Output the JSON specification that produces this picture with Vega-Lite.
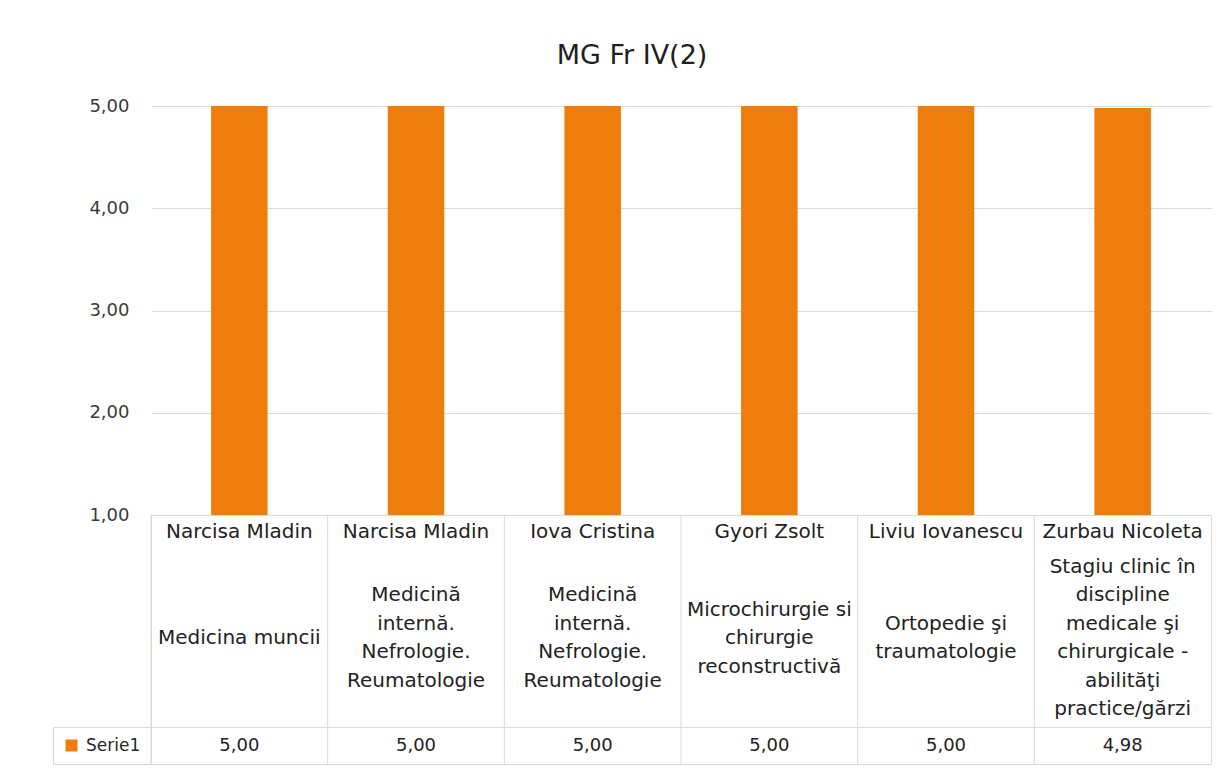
{
  "$schema": "https://vega.github.io/schema/vega-lite/v6.json",
  "background": "white",
  "padding": {"left": 52, "top": 42, "right": 15, "bottom": 6},
  "title": {"text": "MG Fr IV(2)", "fontSize": 27, "font": "DejaVu Sans", "fontWeight": "normal", "color": "#1f1f1f", "anchor": "middle", "offset": 27},
  "config": {
    "locale": {"number": {"decimal": ",", "thousands": ".", "grouping": [3], "currency": ["", " lei"]}},
    "font": "DejaVu Sans",
    "view": {"stroke": "#d9d9d9"}
  },
  "spacing": 0,
  "bounds": "flush",
  "datasets": {
    "d": [
      {"label": "Narcisa Mladin | Medicina muncii", "cadru": "Narcisa Mladin", "disciplina": "Medicina muncii", "valoare": 5.00, "serie": "Serie1"},
      {"label": "Narcisa Mladin | Medicină internă", "cadru": "Narcisa Mladin", "disciplina": "Medicină\ninternă.\nNefrologie.\nReumatologie", "valoare": 5.00, "serie": "Serie1"},
      {"label": "Iova Cristina | Medicină internă", "cadru": "Iova Cristina", "disciplina": "Medicină\ninternă.\nNefrologie.\nReumatologie", "valoare": 5.00, "serie": "Serie1"},
      {"label": "Gyori Zsolt | Microchirurgie", "cadru": "Gyori Zsolt", "disciplina": "Microchirurgie si\nchirurgie\nreconstructivă", "valoare": 5.00, "serie": "Serie1"},
      {"label": "Liviu Iovanescu | Ortopedie", "cadru": "Liviu Iovanescu", "disciplina": "Ortopedie şi\ntraumatologie", "valoare": 5.00, "serie": "Serie1"},
      {"label": "Zurbau Nicoleta | Stagiu clinic", "cadru": "Zurbau Nicoleta", "disciplina": "Stagiu clinic în\ndiscipline\nmedicale şi\nchirurgicale -\nabilităţi\npractice/gărzi", "valoare": 4.98, "serie": "Serie1"}
    ]
  },
  "vconcat": [
    {
      "width": 1060,
      "height": 409,
      "view": {"stroke": null},
      "data": {"name": "d"},
      "mark": {"type": "bar", "width": {"band": 0.32}},
      "encoding": {
        "x": {"field": "label", "type": "nominal", "sort": null, "scale": {"paddingInner": 0, "paddingOuter": 0}, "axis": null},
        "y": {"field": "valoare", "type": "quantitative", "scale": {"domain": [1, 5], "zero": false, "nice": false},
          "axis": {"values": [1, 2, 3, 4, 5], "format": ".2f", "labelFontSize": 18, "labelColor": "#3a3a3a", "labelPadding": 22, "ticks": false, "domain": false, "gridColor": "#d9d9d9", "title": null}},
        "y2": {"datum": 1},
        "color": {"field": "serie", "type": "nominal", "scale": {"range": ["#EF7D0B"]},
          "legend": {"title": null, "orient": "none", "legendX": -98, "legendY": 621, "symbolType": "square", "symbolSize": 144, "symbolStrokeWidth": 0, "labelFontSize": 17, "labelColor": "#262626", "labelOffset": 6, "strokeColor": "#d9d9d9", "padding": 10}}
      }
    },
    {
      "width": 1060,
      "height": 212,
      "data": {"name": "d"},
      "layer": [
        {
          "mark": {"type": "rule", "color": "#d9d9d9", "strokeWidth": 1},
          "encoding": {
            "x": {"field": "label", "type": "nominal", "sort": null, "bandPosition": 0, "scale": {"paddingInner": 0, "paddingOuter": 0}, "axis": null}
          }
        },
        {
          "transform": [{"fold": ["cadru", "disciplina"], "as": ["parte", "text"]}],
          "mark": {"type": "text", "fontSize": 20, "color": "#222222", "lineBreak": "\n", "lineHeight": 28.5, "baseline": "middle",
            "dy": {"expr": "-(length(split(datum.text, '\\n')) - 1) * 14.25"}},
          "encoding": {
            "x": {"field": "label", "type": "nominal", "sort": null, "scale": {"paddingInner": 0, "paddingOuter": 0}, "axis": null},
            "y": {"field": "parte", "type": "nominal", "scale": {"type": "point", "padding": 0, "domain": ["cadru", "disciplina"], "range": [17, 123]}, "axis": null},
            "text": {"field": "text"}
          }
        }
      ]
    },
    {
      "width": 1060,
      "height": 37,
      "data": {"name": "d"},
      "layer": [
        {
          "mark": {"type": "rule", "color": "#d9d9d9", "strokeWidth": 1},
          "encoding": {
            "x": {"field": "label", "type": "nominal", "sort": null, "bandPosition": 0, "scale": {"paddingInner": 0, "paddingOuter": 0}, "axis": null}
          }
        },
        {
          "mark": {"type": "text", "fontSize": 18, "color": "#222222"},
          "encoding": {
            "x": {"field": "label", "type": "nominal", "sort": null, "scale": {"paddingInner": 0, "paddingOuter": 0}, "axis": null},
            "text": {"field": "valoare", "type": "quantitative", "format": ".2f"}
          }
        }
      ]
    }
  ]
}
